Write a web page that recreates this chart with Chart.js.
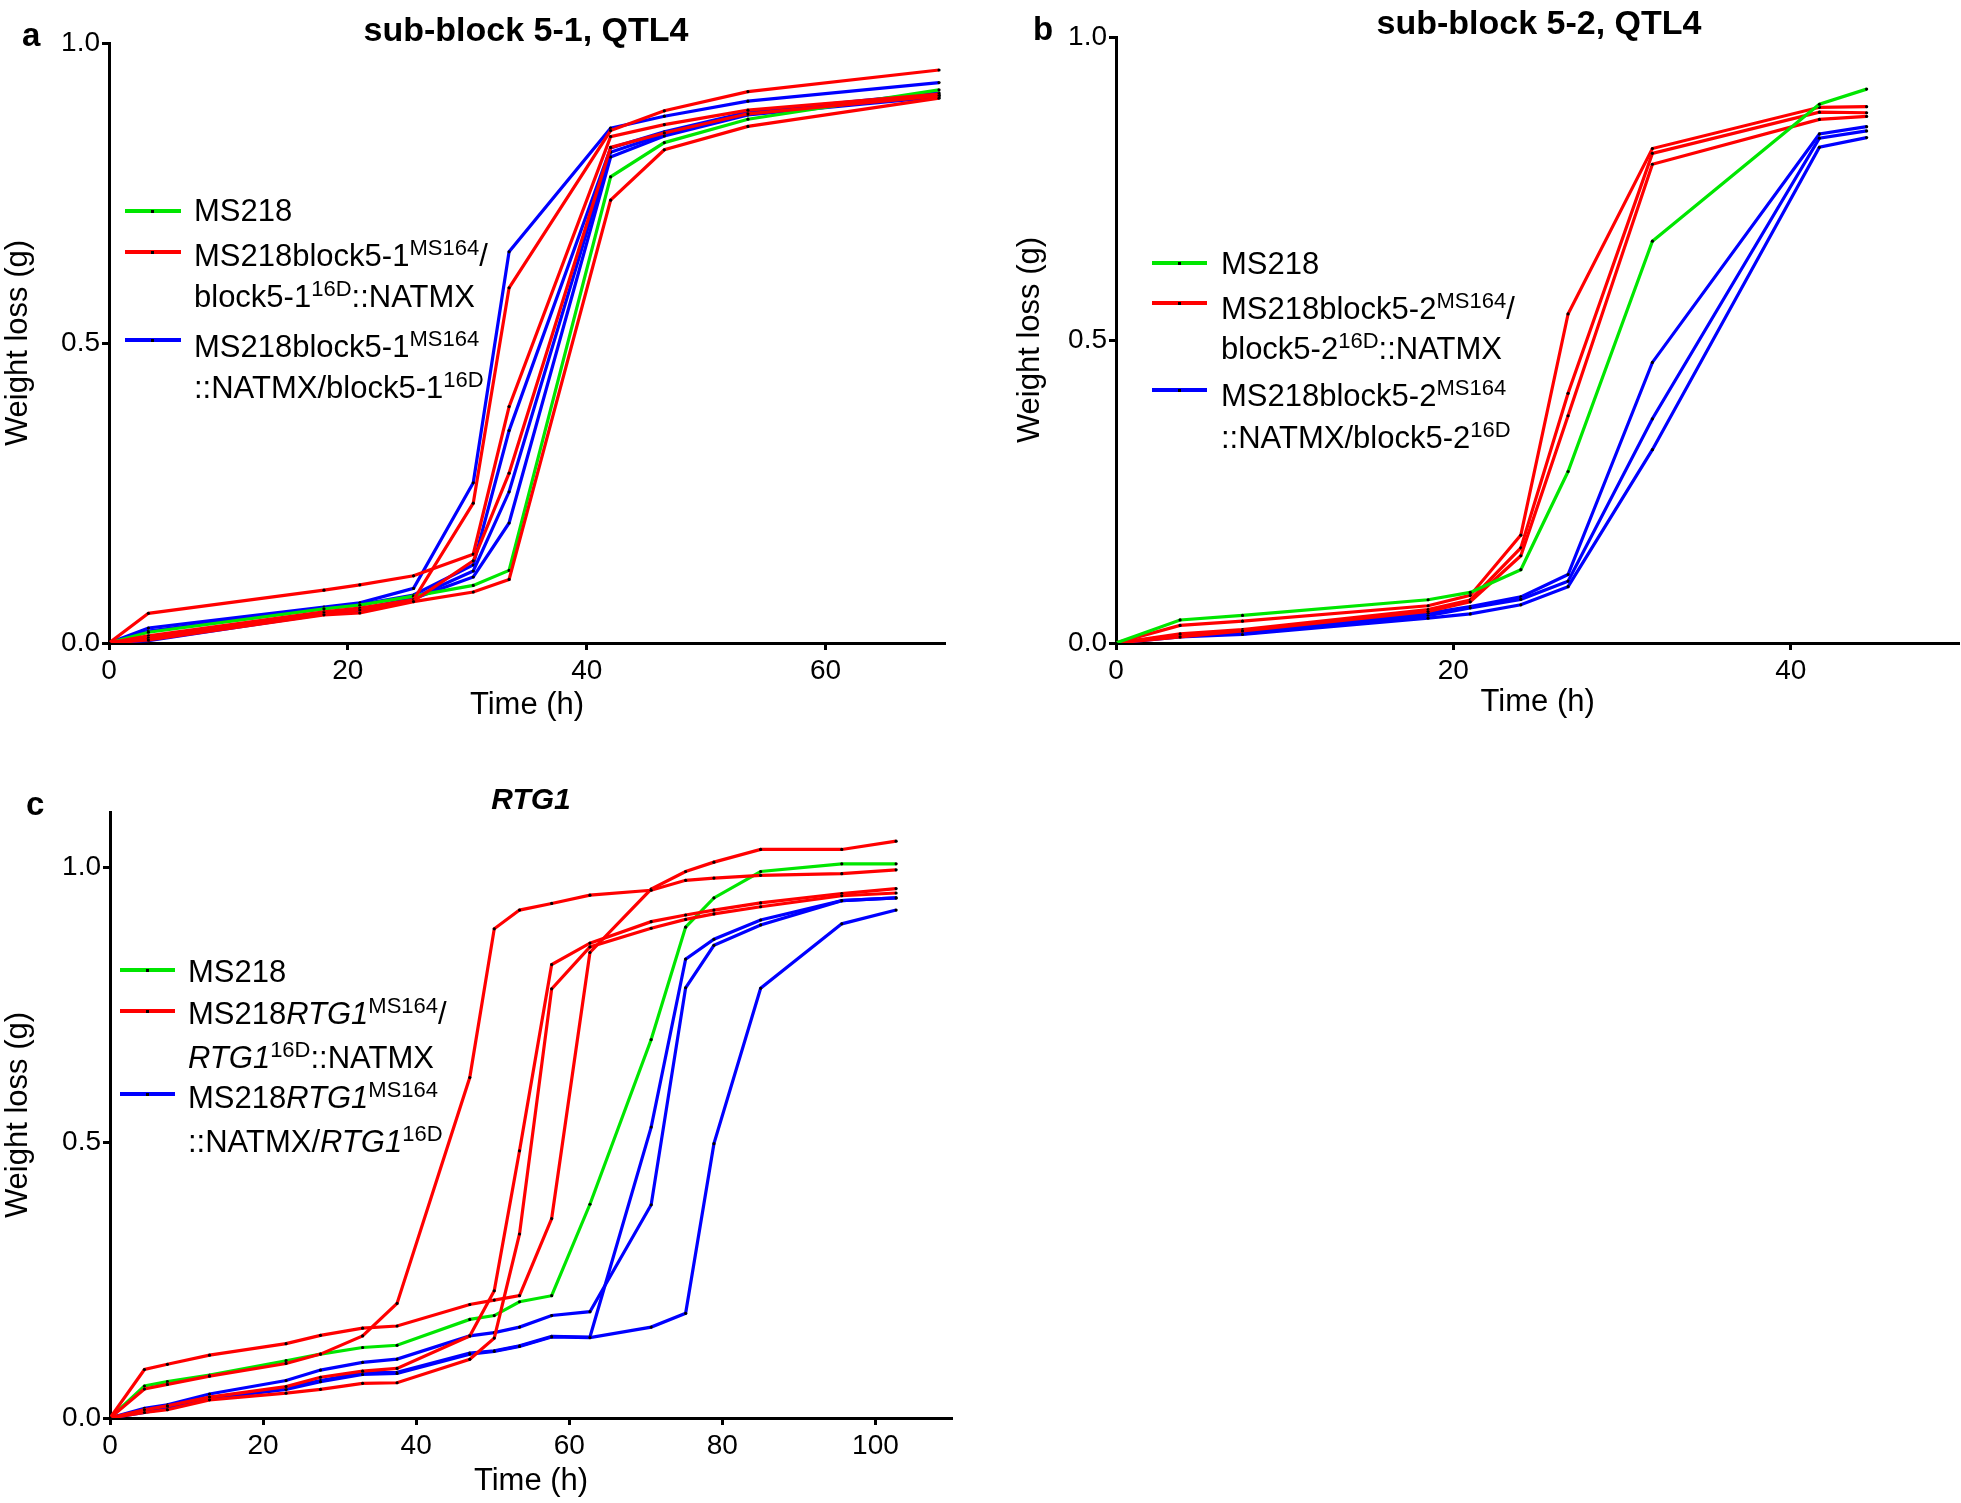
<!DOCTYPE html>
<html><head><meta charset="utf-8">
<script src="https://cdn.jsdelivr.net/npm/chart.js@4.4.1/dist/chart.umd.min.js"></script>
<style>
html,body{margin:0;padding:0;background:#fff;}
body{width:1961px;height:1503px;position:relative;overflow:hidden;font-family:"Liberation Sans",Arial,Helvetica,sans-serif;color:#000;}
canvas{position:absolute;}
.t{position:absolute;white-space:nowrap;line-height:1;font-size:31px;z-index:5;}
.sup{font-size:22px;position:relative;top:-11px;}
.title{position:absolute;white-space:nowrap;line-height:1;font-weight:bold;font-size:34px;z-index:5;transform:translateX(-50%);}
.lab{position:absolute;line-height:1;font-weight:bold;font-size:33px;z-index:5;}
.sw{position:absolute;height:4px;z-index:5;}
.dot{position:absolute;width:3px;height:3px;background:#000;left:26px;top:0.5px;}
</style></head><body>

<canvas id="chartA" style="left:0px;top:0px;" width="960" height="724"></canvas>
<canvas id="chartB" style="left:1012px;top:0px;" width="949" height="721"></canvas>
<canvas id="chartC" style="left:0px;top:760px;" width="967" height="740"></canvas>

<div class="lab" style="left:22px;top:18px;">a</div>
<div class="lab" style="left:1033px;top:12px;">b</div>
<div class="lab" style="left:26px;top:787px;">c</div>

<div class="title" style="left:526px;top:12px;">sub-block 5-1, QTL4</div>
<div class="title" style="left:1539px;top:5px;">sub-block 5-2, QTL4</div>
<div class="title" style="left:531px;top:784px;font-size:30px;font-style:italic;">RTG1</div>

<!-- legend a -->
<div class="sw" style="left:125px;top:209px;width:56px;background:#00e600;"><div class="dot"></div></div>
<div class="sw" style="left:125px;top:250px;width:56px;background:#ff0000;"><div class="dot"></div></div>
<div class="sw" style="left:125px;top:338px;width:56px;background:#0000ff;"><div class="dot"></div></div>
<div class="t" style="left:194px;top:195px;">MS218</div>
<div class="t" style="left:194px;top:240px;">MS218block5-1<span class="sup">MS164</span>/</div>
<div class="t" style="left:194px;top:281px;">block5-1<span class="sup">16D</span>::NATMX</div>
<div class="t" style="left:194px;top:331px;">MS218block5-1<span class="sup">MS164</span></div>
<div class="t" style="left:194px;top:372px;">::NATMX/block5-1<span class="sup">16D</span></div>

<!-- legend b -->
<div class="sw" style="left:1152px;top:261px;width:55px;background:#00e600;"><div class="dot"></div></div>
<div class="sw" style="left:1152px;top:301px;width:55px;background:#ff0000;"><div class="dot"></div></div>
<div class="sw" style="left:1152px;top:388px;width:55px;background:#0000ff;"><div class="dot"></div></div>
<div class="t" style="left:1221px;top:248px;">MS218</div>
<div class="t" style="left:1221px;top:293px;">MS218block5-2<span class="sup">MS164</span>/</div>
<div class="t" style="left:1221px;top:333px;">block5-2<span class="sup">16D</span>::NATMX</div>
<div class="t" style="left:1221px;top:380px;">MS218block5-2<span class="sup">MS164</span></div>
<div class="t" style="left:1221px;top:422px;">::NATMX/block5-2<span class="sup">16D</span></div>

<!-- legend c -->
<div class="sw" style="left:120px;top:968px;width:55px;background:#00e600;"><div class="dot"></div></div>
<div class="sw" style="left:120px;top:1009px;width:55px;background:#ff0000;"><div class="dot"></div></div>
<div class="sw" style="left:120px;top:1092px;width:55px;background:#0000ff;"><div class="dot"></div></div>
<div class="t" style="left:188px;top:956px;">MS218</div>
<div class="t" style="left:188px;top:998px;">MS218<i>RTG1</i><span class="sup">MS164</span>/</div>
<div class="t" style="left:188px;top:1042px;"><i>RTG1</i><span class="sup">16D</span>::NATMX</div>
<div class="t" style="left:188px;top:1082px;">MS218<i>RTG1</i><span class="sup">MS164</span></div>
<div class="t" style="left:188px;top:1126px;">::NATMX/<i>RTG1</i><span class="sup">16D</span></div>

<script>
// ---------- DATA ----------
const COLOR_MS218 = '#00e600';
const COLOR_RED = '#ff0000';
const COLOR_BLUE = '#0000ff';

// Panel a: sub-block 5-1, QTL4
const timeA = [0, 3.3, 18, 21, 25.5, 30.5, 33.5, 42, 46.5, 53.5, 69.5];
const aMS218 = [0, 0.018, 0.057, 0.063, 0.078, 0.096, 0.121, 0.777, 0.834, 0.873, 0.922];
const aRed1  = [0, 0.0495, 0.088, 0.097, 0.112, 0.148, 0.394, 0.844, 0.864, 0.888, 0.915];
const aRed2  = [0, 0.012, 0.052, 0.058, 0.072, 0.233, 0.592, 0.854, 0.887, 0.919, 0.955];
const aRed3  = [0, 0.008, 0.050, 0.055, 0.070, 0.137, 0.283, 0.826, 0.850, 0.882, 0.912];
const aRed4  = [0, 0.005, 0.047, 0.050, 0.069, 0.085, 0.106, 0.738, 0.822, 0.861, 0.908];
const aBlue1 = [0, 0.025, 0.060, 0.067, 0.091, 0.267, 0.652, 0.858, 0.878, 0.903, 0.934];
const aBlue2 = [0, 0.020, 0.058, 0.064, 0.080, 0.130, 0.354, 0.825, 0.852, 0.885, 0.917];
const aBlue3 = [0, 0.006, 0.050, 0.056, 0.075, 0.120, 0.252, 0.818, 0.848, 0.882, 0.913];
const aBlue4 = [0, 0.004, 0.048, 0.054, 0.074, 0.110, 0.200, 0.810, 0.845, 0.880, 0.910];
const xTicksA = [0, 20, 40, 60];
const yTicksA = [0, 0.5, 1.0];

// Panel b: sub-block 5-2, QTL4
const timeB = [0, 3.8, 7.5, 18.5, 21, 24, 26.8, 31.8, 41.7, 44.5];
const bMS218 = [0, 0.038, 0.0455, 0.0714, 0.0835, 0.121, 0.283, 0.663, 0.889, 0.914];
const bRed1  = [0, 0.029, 0.036, 0.0615, 0.0785, 0.178, 0.543, 0.816, 0.884, 0.885];
const bRed2  = [0, 0.015, 0.022, 0.055, 0.071, 0.157, 0.412, 0.808, 0.876, 0.875];
const bRed3  = [0, 0.010, 0.020, 0.052, 0.068, 0.144, 0.375, 0.790, 0.864, 0.869];
const bBlue1 = [0, 0.013, 0.016, 0.049, 0.060, 0.076, 0.113, 0.463, 0.840, 0.852];
const bBlue2 = [0, 0.012, 0.015, 0.045, 0.058, 0.072, 0.102, 0.370, 0.833, 0.845];
const bBlue3 = [0, 0.010, 0.014, 0.041, 0.048, 0.063, 0.093, 0.319, 0.818, 0.834];
const xTicksB = [0, 20, 40];
const yTicksB = [0, 0.5, 1.0];

// Panel c: RTG1
const timeC = [0, 4.5, 7.5, 13, 23, 27.5, 33, 37.5, 47, 50.2, 53.5, 57.7, 62.7, 70.7, 75.2, 78.9, 85, 95.6, 102.7];
const cMS218 = [0, 0.058, 0.066, 0.078, 0.104, 0.116, 0.128, 0.132, 0.179, 0.186, 0.211, 0.222, 0.388, 0.687, 0.891, 0.944, 0.992, 1.006, 1.006];
const cRed1  = [0, 0.0526, 0.061, 0.076, 0.099, 0.116, 0.149, 0.208, 0.618, 0.888, 0.922, 0.934, 0.949, 0.958, 0.976, 0.980, 0.985, 0.988, 0.995];
const cRed2  = [0, 0.015, 0.022, 0.038, 0.057, 0.074, 0.085, 0.090, 0.149, 0.231, 0.485, 0.823, 0.862, 0.901, 0.913, 0.922, 0.935, 0.952, 0.961];
const cRed3  = [0, 0.088, 0.0975, 0.114, 0.135, 0.150, 0.163, 0.167, 0.206, 0.214, 0.222, 0.362, 0.845, 0.960, 0.992, 1.009, 1.032, 1.032, 1.047];
const cRed4  = [0, 0.010, 0.015, 0.033, 0.045, 0.052, 0.063, 0.064, 0.1065, 0.145, 0.334, 0.779, 0.855, 0.889, 0.905, 0.915, 0.928, 0.948, 0.953];
const cBlue1 = [0, 0.0175, 0.024, 0.0436, 0.068, 0.087, 0.101, 0.107, 0.149, 0.155, 0.165, 0.186, 0.193, 0.387, 0.781, 0.858, 0.895, 0.939, 0.944];
const cBlue2 = [0, 0.012, 0.020, 0.037, 0.055, 0.068, 0.082, 0.083, 0.118, 0.122, 0.131, 0.148, 0.147, 0.528, 0.833, 0.869, 0.904, 0.939, 0.944];
const cBlue3 = [0, 0.010, 0.018, 0.035, 0.052, 0.066, 0.079, 0.081, 0.116, 0.121, 0.130, 0.147, 0.146, 0.165, 0.190, 0.498, 0.780, 0.897, 0.922];
const xTicksC = [0, 20, 40, 60, 80, 100];
const yTicksC = [0, 0.5, 1.0];

// ---------- CHARTS ----------
Chart.defaults.font.family = '"Liberation Sans", Arial, Helvetica, sans-serif';
Chart.defaults.color = '#000';

function ds(times, values, color) {
  return {
    data: times.map((t, i) => ({x: t, y: values[i]})),
    borderColor: color,
    backgroundColor: color,
    borderWidth: 3.2,
    tension: 0,
    fill: false,
    pointRadius: 1.6,
    pointHoverRadius: 0,
    pointBackgroundColor: '#000',
    pointBorderColor: '#000',
    pointBorderWidth: 0
  };
}

function makeChart(id, datasets, cfg) {
  const axisCommon = {
    type: 'linear',
    border: {display: true, color: '#000', width: 3},
    grid: {display: true, drawOnChartArea: false, drawTicks: true, tickLength: 7, tickWidth: 3, tickColor: '#000', color: '#000'},
    title: {display: true, color: '#000', font: {size: 31, lineHeight: 1.2}, padding: 0}
  };
  new Chart(document.getElementById(id), {
    type: 'line',
    data: {datasets: datasets},
    options: {
      responsive: false,
      animation: false,
      events: [],
      layout: {padding: cfg.padding},
      plugins: {legend: {display: false}, tooltip: {enabled: false}, title: {display: false}},
      scales: {
        x: Object.assign({}, axisCommon, {
          position: 'bottom', min: 0, max: cfg.xMax,
          title: Object.assign({}, axisCommon.title, {text: 'Time (h)'}),
          ticks: {font: {size: 28}, color: '#000', padding: 4, maxRotation: 0, autoSkip: false, callback: v => String(v)},
          afterBuildTicks: s => { s.ticks = cfg.xTicks.map(v => ({value: v})); },
          afterFit: s => { s.height = cfg.xAxisH; }
        }),
        y: Object.assign({}, axisCommon, {
          position: 'left', min: 0, max: cfg.yMax,
          title: Object.assign({}, axisCommon.title, {text: 'Weight loss (g)'}),
          ticks: {font: {size: 28}, color: '#000', padding: 2, autoSkip: false, callback: v => Number(v).toFixed(1)},
          afterBuildTicks: s => { s.ticks = cfg.yTicks.map(v => ({value: v})); },
          afterFit: s => { s.width = cfg.yAxisW; }
        })
      }
    }
  });
}

makeChart('chartA', [
  ds(timeA, aRed4, COLOR_RED), ds(timeA, aRed3, COLOR_RED), ds(timeA, aRed1, COLOR_RED), ds(timeA, aRed2, COLOR_RED),
  ds(timeA, aMS218, COLOR_MS218),
  ds(timeA, aBlue4, COLOR_BLUE), ds(timeA, aBlue3, COLOR_BLUE), ds(timeA, aBlue2, COLOR_BLUE), ds(timeA, aBlue1, COLOR_BLUE)
], {xMax: 70, yMax: 1.0, xTicks: xTicksA, yTicks: yTicksA, yAxisW: 109, xAxisH: 81,
    padding: {left: 0, top: 43, right: 15, bottom: 0}});

makeChart('chartB', [
  ds(timeB, bMS218, COLOR_MS218),
  ds(timeB, bRed3, COLOR_RED), ds(timeB, bRed2, COLOR_RED), ds(timeB, bRed1, COLOR_RED),
  ds(timeB, bBlue3, COLOR_BLUE), ds(timeB, bBlue2, COLOR_BLUE), ds(timeB, bBlue1, COLOR_BLUE)
], {xMax: 50, yMax: 1.0, xTicks: xTicksB, yTicks: yTicksB, yAxisW: 104, xAxisH: 78,
    padding: {left: 0, top: 37, right: 1, bottom: 0}});

makeChart('chartC', [
  ds(timeC, cRed4, COLOR_RED), ds(timeC, cRed2, COLOR_RED), ds(timeC, cRed1, COLOR_RED), ds(timeC, cRed3, COLOR_RED),
  ds(timeC, cMS218, COLOR_MS218),
  ds(timeC, cBlue3, COLOR_BLUE), ds(timeC, cBlue2, COLOR_BLUE), ds(timeC, cBlue1, COLOR_BLUE)
], {xMax: 110, yMax: 1.1, xTicks: xTicksC, yTicks: yTicksC, yAxisW: 110, xAxisH: 82,
    padding: {left: 0, top: 52, right: 15, bottom: 0}});
</script>
</body></html>
